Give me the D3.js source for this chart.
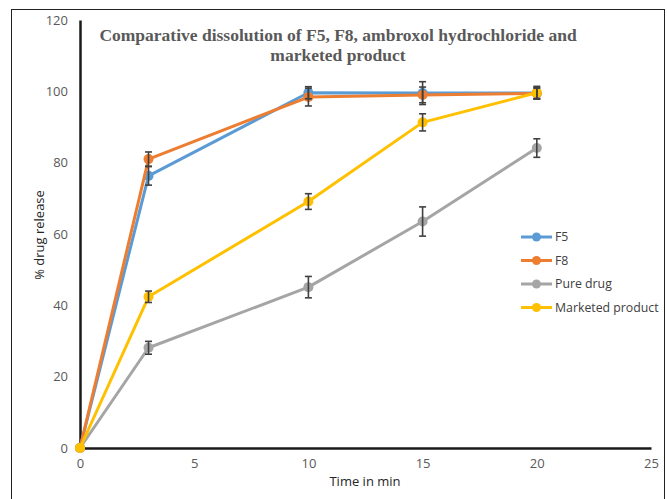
<!DOCTYPE html>
<html lang="en">
<head>
<meta charset="utf-8">
<title>Comparative dissolution</title>
<script src="https://cdn.jsdelivr.net/npm/d3@7"></script>
<style>
  body { margin: 0; background: #fff; }
  svg { display: block; }
  .tick text { font: 13px "Open Sans", "Liberation Sans", sans-serif; fill: #595959; }
  .axis path { stroke: #1a1a1a; stroke-width: 2.5; }
  .axis line { display: none; }
</style>
</head>
<body>
<svg width="667" height="499"></svg>
<script>
// data
var times = [0, 3, 10, 15, 20];
var seriesNames = ["F5", "F8", "Pure drug", "Marketed product"];
var f5 = [0, 76.3, 99.6, 99.5, 99.5];
var f5Err = [0, 2.6, 1.7, 3.2, 1.5];
var f8 = [0, 81.0, 98.4, 99.0, 99.4];
var f8Err = [0, 2.0, 2.5, 2.2, 1.5];
var pure = [0, 28.1, 45.1, 63.5, 84.1];
var pureErr = [0, 1.8, 3.0, 4.1, 2.6];
var marketed = [0, 42.4, 69.1, 91.3, 99.6];
var marketedErr = [0, 1.6, 2.2, 2.4, 1.8];
var xTicks = [0, 5, 10, 15, 20, 25];
var yTicks = [0, 20, 40, 60, 80, 100, 120];
var colors = ["#5B9BD5", "#ED7D31", "#A5A5A5", "#FFC000"];

var series = [
  {name: seriesNames[0], vals: f5, err: f5Err, color: colors[0]},
  {name: seriesNames[1], vals: f8, err: f8Err, color: colors[1]},
  {name: seriesNames[2], vals: pure, err: pureErr, color: colors[2]},
  {name: seriesNames[3], vals: marketed, err: marketedErr, color: colors[3]}
];

var svg = d3.select("svg");

// outer frame
svg.append("rect")
    .attr("x", 11.5).attr("y", 9.5)
    .attr("width", 653).attr("height", 500)
    .attr("fill", "none").attr("stroke", "#222").attr("stroke-width", 1);

var x = d3.scaleLinear().domain([0, 25]).range([80, 651]);
var y = d3.scaleLinear().domain([0, 120]).range([448, 20]);

svg.append("g")
    .attr("class", "axis")
    .attr("transform", "translate(0," + y(0) + ")")
    .call(d3.axisBottom(x).tickValues(xTicks).tickSize(0).tickPadding(11).tickSizeOuter(0));

svg.append("g")
    .attr("class", "axis")
    .attr("transform", "translate(" + x(0) + ",0)")
    .call(d3.axisLeft(y).tickValues(yTicks).tickSize(0).tickPadding(12).tickSizeOuter(0));

// axis titles
svg.append("text")
    .attr("x", 365).attr("y", 486)
    .attr("text-anchor", "middle")
    .style("font", "13px 'Open Sans', 'Liberation Sans', sans-serif")
    .attr("fill", "#262626")
    .text("Time in min");

svg.append("text")
    .attr("transform", "translate(44,235) rotate(-90)")
    .attr("text-anchor", "middle")
    .style("font", "13px 'Open Sans', 'Liberation Sans', sans-serif")
    .attr("fill", "#262626")
    .text("% drug release");

// title
var title = svg.append("text")
    .attr("text-anchor", "middle")
    .style("font", "bold 17.5px 'Liberation Serif', 'Times New Roman', serif")
    .attr("fill", "#595959");
title.append("tspan").attr("x", 338).attr("y", 41)
    .text("Comparative dissolution of F5, F8, ambroxol hydrochloride and");
title.append("tspan").attr("x", 338).attr("y", 61)
    .text("marketed product");

var line = d3.line()
    .x(function(d, i) { return x(times[i]); })
    .y(function(d) { return y(d); });

series.forEach(function(s) {
  svg.append("path")
      .datum(s.vals)
      .attr("d", line)
      .attr("fill", "none")
      .attr("stroke", s.color)
      .attr("stroke-width", 3)
      .attr("stroke-linejoin", "round");

  svg.selectAll(null)
      .data(s.vals)
      .enter().append("circle")
        .attr("cx", function(d, i) { return x(times[i]); })
        .attr("cy", function(d) { return y(d); })
        .attr("r", 5)
        .attr("fill", s.color);
});

// error bars
series.forEach(function(s) {
  var eb = svg.append("g").attr("stroke", "#404040").attr("stroke-width", 1.6);
  s.vals.forEach(function(v, i) {
    if (!s.err[i]) return;
    var cx = x(times[i]);
    var top = y(v + s.err[i]), bot = y(v - s.err[i]);
    eb.append("line").attr("x1", cx).attr("x2", cx).attr("y1", top).attr("y2", bot);
    eb.append("line").attr("x1", cx - 3.5).attr("x2", cx + 3.5).attr("y1", top).attr("y2", top);
    eb.append("line").attr("x1", cx - 3.5).attr("x2", cx + 3.5).attr("y1", bot).attr("y2", bot);
  });
});

// legend
var legend = svg.selectAll(".legend")
    .data(series)
    .enter().append("g")
      .attr("class", "legend")
      .attr("transform", function(d, i) { return "translate(521," + (237 + i * 23.5) + ")"; });

legend.append("line")
    .attr("x1", 0).attr("x2", 31)
    .attr("stroke", function(d) { return d.color; })
    .attr("stroke-width", 3);
legend.append("circle")
    .attr("cx", 15.5).attr("r", 4.5)
    .attr("fill", function(d) { return d.color; });
legend.append("text")
    .attr("x", 34).attr("dy", "0.35em")
    .style("font", "12.3px 'Open Sans', 'Liberation Sans', sans-serif")
    .attr("fill", "#404040")
    .text(function(d) { return d.name; });
</script>
</body>
</html>
